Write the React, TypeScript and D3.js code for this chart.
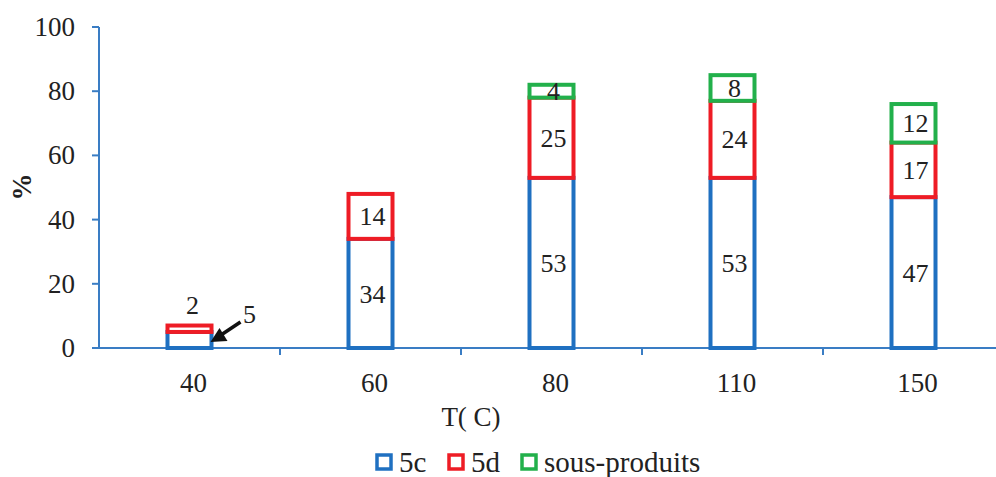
import React from "react";
import * as d3 from "d3";

const categories = ["40", "60", "80", "110", "150"];
const s5c = [5, 34, 53, 53, 47];
const s5d = [2, 14, 25, 24, 17];
const sous = [0, 0, 4, 8, 12];
const yTicks = [0, 20, 40, 60, 80, 100];
const seriesNames = ["5c", "5d", "sous-produits"];
const colors = ["#1f70c1", "#ee1c25", "#22b04b"];

export default function App() {
  const W = 996, H = 477;
  const x0 = 99, x1 = 1004;
  const y = d3.scaleLinear().domain([0, 100]).range([348, 27]);
  const x = d3.scaleBand().domain(categories).range([x0, x1]).paddingInner(0).paddingOuter(0);
  const bw = 44;
  const axisColor = "#3a7dc4";
  const font = "Liberation Serif, Times New Roman, Times, serif";
  const series = [s5c, s5d, sous];

  return (
    <svg width={W} height={H} style={{ position: "absolute", left: 0, top: 0, fontFamily: font }}>
      <rect width={W} height={H} fill="#fff" />
      {/* y axis */}
      <line x1={x0} x2={x0} y1={y(100)} y2={y(0)} stroke={axisColor} strokeWidth={2} />
      {yTicks.map((t) => (
        <g key={t}>
          <line x1={x0 - 7} x2={x0} y1={y(t)} y2={y(t)} stroke={axisColor} strokeWidth={2} />
          <text x={x0 - 24} y={y(t)} dy="0.33em" textAnchor="end" fontSize={27} fill="#222">{t}</text>
        </g>
      ))}
      {/* x axis */}
      <line x1={x0} x2={x1} y1={y(0)} y2={y(0)} stroke={axisColor} strokeWidth={2} />
      {categories.slice(1).map((c) => (
        <line key={c} x1={x(c) as number} x2={x(c) as number} y1={y(0)} y2={y(0) + 7} stroke={axisColor} strokeWidth={2} />
      ))}
      {categories.map((c) => (
        <text key={c} x={(x(c) as number) + x.bandwidth() / 2 + 4} y={392} textAnchor="middle" fontSize={27} fill="#222">{c}</text>
      ))}
      {/* bars */}
      {categories.map((c, i) => {
        const cx = (x(c) as number) + x.bandwidth() / 2;
        let base = 0;
        return (
          <g key={c}>
            {series.map((s, k) => {
              const v = s[i];
              if (!v) return null;
              const top = base + v;
              const bottom = base;
              base = top;
              const yt = y(top), yb = y(bottom);
              return (
                <rect key={k} x={cx - bw / 2} y={yt} width={bw} height={yb - yt} fill="#fff" stroke={colors[k]} strokeWidth={4} />
              );
            })}
          </g>
        );
      })}
      {/* value labels */}
      {categories.map((c, i) => {
        const cx = (x(c) as number) + x.bandwidth() / 2;
        if (i === 0) return null;
        let base = 0;
        return (
          <g key={c}>
            {series.map((s, k) => {
              const v = s[i];
              if (!v) return null;
              const mid = base + v / 2;
              base += v;
              return (
                <text key={k} x={cx + 2} y={y(mid)} dy="0.35em" textAnchor="middle" fontSize={26} fill="#222">{v}</text>
              );
            })}
          </g>
        );
      })}
      {/* 40 annotations */}
      {(() => {
        const cx = (x(categories[0]) as number) + x.bandwidth() / 2;
        return (
          <g>
            <text x={cx + 3} y={y(s5c[0] + s5d[0]) - 12} textAnchor="middle" fontSize={26} fill="#222">{s5d[0]}</text>
            <text x={cx + 60} y={y(s5c[0]) - 9} textAnchor="middle" fontSize={26} fill="#222">{s5c[0]}</text>
            <line x1={cx + 51} y1={y(s5c[0]) - 10} x2={cx + 30} y2={y(0) - 12} stroke="#111" strokeWidth={3.5} />
            <path d={`M ${cx + 21} ${y(0) - 6} l 17 -1 l -8 -13 z`} fill="#111" />
          </g>
        );
      })()}
      {/* axis titles */}
      <text transform={`translate(31, 187) rotate(-90)`} textAnchor="middle" fontSize={27} fontWeight="bold" fill="#222">%</text>
      <text x={471} y={426} textAnchor="middle" fontSize={27} fill="#222">T(  C)</text>
      {/* legend */}
      {(() => {
        const items = [
          { x: 377, name: seriesNames[0], c: colors[0] },
          { x: 449, name: seriesNames[1], c: colors[1] },
          { x: 522, name: seriesNames[2], c: colors[2] },
        ];
        return items.map((it) => (
          <g key={it.name}>
            <rect x={it.x} y={455} width={14} height={14} fill="#fff" stroke={it.c} strokeWidth={3.5} />
            <text x={it.x + 22} y={472} fontSize={29} fill="#222">{it.name}</text>
          </g>
        ));
      })()}
    </svg>
  );
}
